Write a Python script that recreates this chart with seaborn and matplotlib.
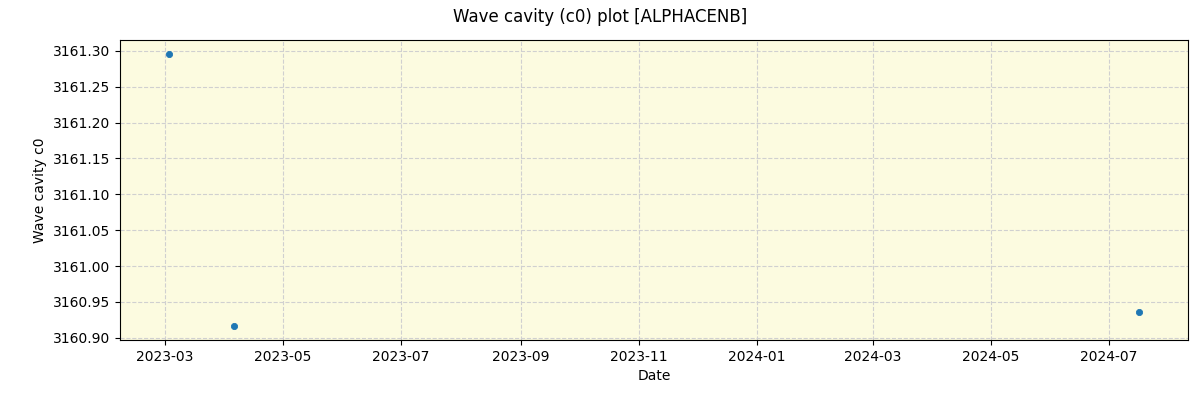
import matplotlib
matplotlib.use("Agg")
import matplotlib.pyplot as plt
import matplotlib.dates as mdates
import seaborn as sns
import pandas as pd

dates = ["2023-03-03", "2023-04-06", "2024-07-17"]
values = [3161.296, 3160.916, 3160.936]

df = pd.DataFrame({"Date": pd.to_datetime(dates), "c0": values})

fig, ax = plt.subplots(figsize=(12, 4), dpi=100)
fig.subplots_adjust(left=0.1, right=0.99, top=0.9, bottom=0.15)
ax.set_facecolor("#fcfbe0")
sns.scatterplot(data=df, x="Date", y="c0", ax=ax, s=20, color="#1f77b4", edgecolor="#1f77b4", linewidth=0.6, zorder=3)
ax.grid(True, linestyle="--", color="#d0d0d0", linewidth=0.8)
ax.set_axisbelow(True)
ax.xaxis.set_major_locator(mdates.MonthLocator(bymonth=[1, 3, 5, 7, 9, 11]))
ax.xaxis.set_major_formatter(mdates.DateFormatter("%Y-%m"))
ax.yaxis.set_major_formatter(matplotlib.ticker.FormatStrFormatter("%.2f"))
ax.set_xlabel("Date")
ax.set_ylabel("Wave cavity c0")
fig.suptitle("Wave cavity (c0) plot [ALPHACENB]", fontsize=12)
fig.savefig("out.png", dpi=100)
